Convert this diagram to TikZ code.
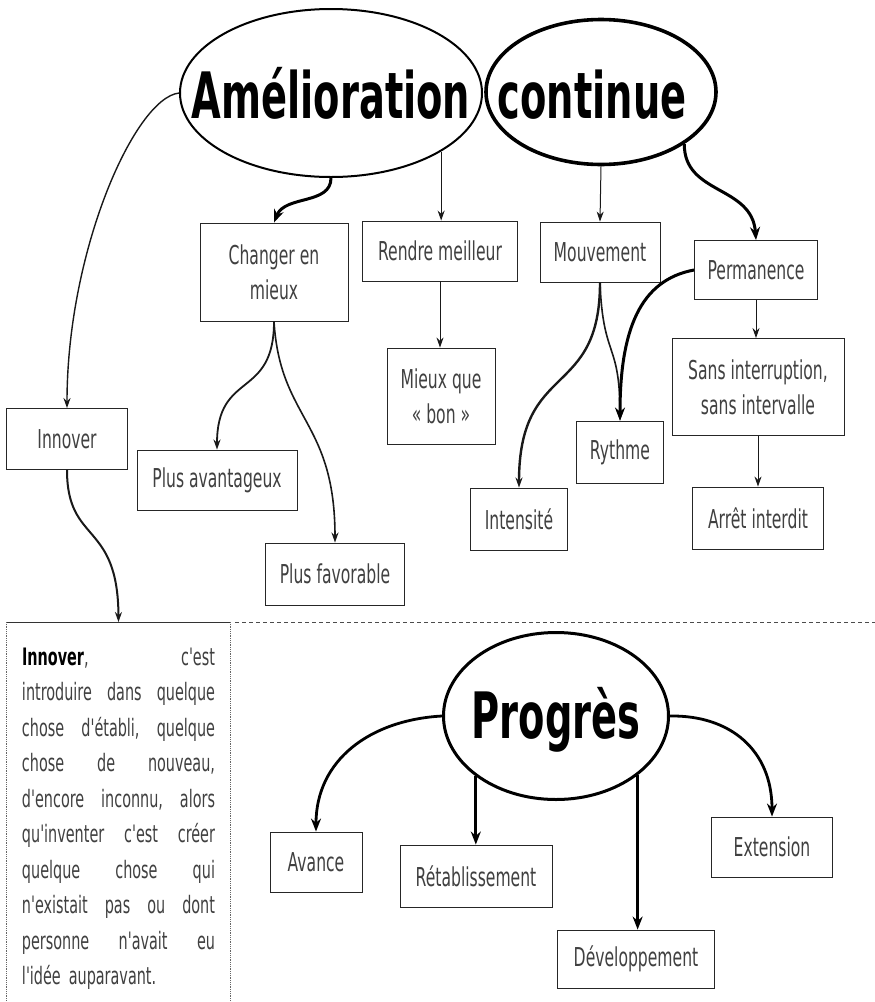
\documentclass[tikz,border=0pt]{standalone}
\usepackage{fontspec}
\setmainfont{DejaVu Sans}
\newfontfamily\djv[FakeStretch=0.6]{DejaVu Sans}
\usetikzlibrary{shapes.geometric,arrows.meta}
% one justified line of the definition text
\newcommand\jline[1]{\leavevmode\hbox to 193pt{#1}}
\begin{document}
\begin{tikzpicture}[x=1pt,y=-1pt,
  title/.style={ellipse,draw=black,inner sep=0pt,
    font=\djv\bfseries\fontsize{64}{70}\selectfont},
  box/.style={rectangle,draw=black!85,line width=0.9pt,inner sep=0pt,
    align=center,text=black!75,font=\djv\fontsize{26}{35}\selectfont},
  link/.style={draw=black!90,line width=1.4pt,
    -{Stealth[length=10pt,width=7pt]}},
  heavy/.style={draw=black,line width=3pt,
    -{Stealth[length=13pt,width=10pt]}},
  sep/.style={draw=black!70,line width=0.8pt,dash pattern=on 4pt off 3pt},
  frame/.style={draw=black!60,line width=0.8pt,densely dotted},
]
\useasboundingbox (0,0) rectangle (875,1002);
\fill[white] (0,0) rectangle (875,1002);

% --- main concepts -------------------------------------------------
\node[title,line width=2pt,minimum width=302pt,minimum height=168pt]
  (amel) at (331,93) {\makebox[0pt]{\raisebox{-25pt}[0pt][0pt]{Amélioration}}};
\node[title,line width=3.6pt,minimum width=230pt,minimum height=145pt]
  (cont) at (601,92) {\makebox[0pt]{\raisebox{-26pt}[0pt][0pt]{continue}\hspace*{18pt}}};
\node[title,line width=3pt,minimum width=225pt,minimum height=167pt]
  (prog) at (556,716) {\makebox[0pt]{\raisebox{-22pt}[0pt][0pt]{Progrès}}};

% --- boxes below "Amélioration continue" ---------------------------
\node[box,minimum width=148pt,minimum height=98pt]  (chg)    at (274,272) {Changer en\\mieux};
\node[box,minimum width=155pt,minimum height=60pt]  (rendre) at (440,251) {Rendre meilleur};
\node[box,minimum width=108pt,minimum height=96pt]  (mieux)  at (441,396) {Mieux que\\« bon »};
\node[box,minimum width=120pt,minimum height=60pt]  (mouv)   at (600,252) {Mouvement};
\node[box,minimum width=123pt,minimum height=59pt]  (perm)   at (756,270) {Permanence};
\node[box,minimum width=172pt,minimum height=97pt]  (sans)   at (758,387) {Sans interruption,\\sans intervalle};
\node[box,minimum width=131pt,minimum height=62pt]  (arret)  at (758,518) {Arrêt interdit};
\node[box,minimum width=87pt,minimum height=62pt]   (rythme) at (620,452) {Rythme};
\node[box,minimum width=97pt,minimum height=62pt]   (intens) at (519,519) {Intensité};
\node[box,minimum width=121pt,minimum height=61pt]  (innov)  at (67,439)  {Innover};
\node[box,minimum width=160pt,minimum height=60pt]  (avant)  at (217,480) {Plus avantageux};
\node[box,minimum width=139pt,minimum height=62pt]  (favor)  at (335,574) {Plus favorable};

% --- boxes below "Progrès" -----------------------------------------
\node[box,minimum width=92pt,minimum height=60pt]   (avance) at (316,862) {Avance};
\node[box,minimum width=152pt,minimum height=62pt]  (retab)  at (476,876) {Rétablissement};
\node[box,minimum width=157pt,minimum height=58pt]  (devel)  at (636,959) {Développement};
\node[box,minimum width=121pt,minimum height=60pt]  (ext)    at (772,847) {Extension};

% --- definition text -----------------------------------------------
\node[anchor=north,inner xsep=15pt,inner ysep=0pt,text width=193pt,
      text=black!75,font=\djv\fontsize{24}{35.5}\selectfont,align=left]
  (para) at (118.5,622) {%
  \rule{0pt}{43pt}\jline{{\color{black}\bfseries Innover},\hfill c'est}\\
  \jline{introduire\hfill dans\hfill quelque}\\
  \jline{chose\hfill d'établi,\hfill quelque}\\
  \jline{chose\hfill de\hfill nouveau,}\\
  \jline{d'encore\hfill inconnu,\hfill alors}\\
  \jline{qu'inventer\hfill c'est\hfill créer}\\
  \jline{quelque\hfill chose\hfill qui}\\
  \jline{n'existait\hfill pas\hfill ou\hfill dont}\\
  \jline{personne\hfill n'avait\hfill eu}\\
  l'idée auparavant.\rule[-30pt]{0pt}{0pt}};
\draw[draw=black!80,line width=0.9pt] (para.north west) -- (para.north east);
\draw[frame] (para.north east) -- (para.south east);
\draw[frame] (para.north west) -- (para.south west);
\draw[sep] ([xshift=5pt]para.north east) -- (875,622);

% --- connectors ----------------------------------------------------
\draw[link] (amel.west) .. controls (135,98) and (67,250) .. (innov.north);
\draw[heavy] (amel.south) .. controls (331,205) and (285,195) .. (chg.north);
\draw[link,line width=1pt] (amel.-28) -- (amel.-28 |- rendre.north);
\draw[link,line width=1pt] (cont.south) -- (mouv.north);
\draw[heavy] (cont.-32) .. controls (684,195) and (752,185) .. (perm.north);
\draw[link,line width=1pt] (rendre.south) -- (rendre.south |- mieux.north);
\draw[link,line width=1.8pt] (chg.south) .. controls (274,400) and (217,370) .. (avant.north);
\draw[link,line width=1.6pt] (chg.south) .. controls (280,420) and (335,420) .. (favor.north);
\draw[link,line width=2pt] (innov.south) .. controls (67,545) and (118,520) .. (para.north);
\draw[link,line width=2.4pt] (mouv.south) .. controls (600,400) and (519,360) .. (intens.north);
\draw[link,line width=1.6pt] (mouv.south) .. controls (603,360) and (620,340) .. (rythme.north);
\draw[heavy] (perm.west) .. controls (640,280) and (620,330) .. (rythme.north);
\draw[link,line width=1pt] (perm.south) -- (perm.south |- sans.north);
\draw[link,line width=1pt] (sans.south) -- (sans.south |- arret.north);

\draw[heavy,line width=2.8pt] (prog.west) .. controls (370,720) and (316,760) .. (avance.north);
\draw[heavy,line width=2.8pt] (prog.-143) -- (prog.-143 |- retab.north);
\draw[heavy,line width=2.4pt] (prog.-36) -- (prog.-36 |- devel.north);
\draw[heavy,line width=2.8pt] (prog.east) .. controls (730,715) and (772,750) .. (ext.north);
\end{tikzpicture}
\end{document}
